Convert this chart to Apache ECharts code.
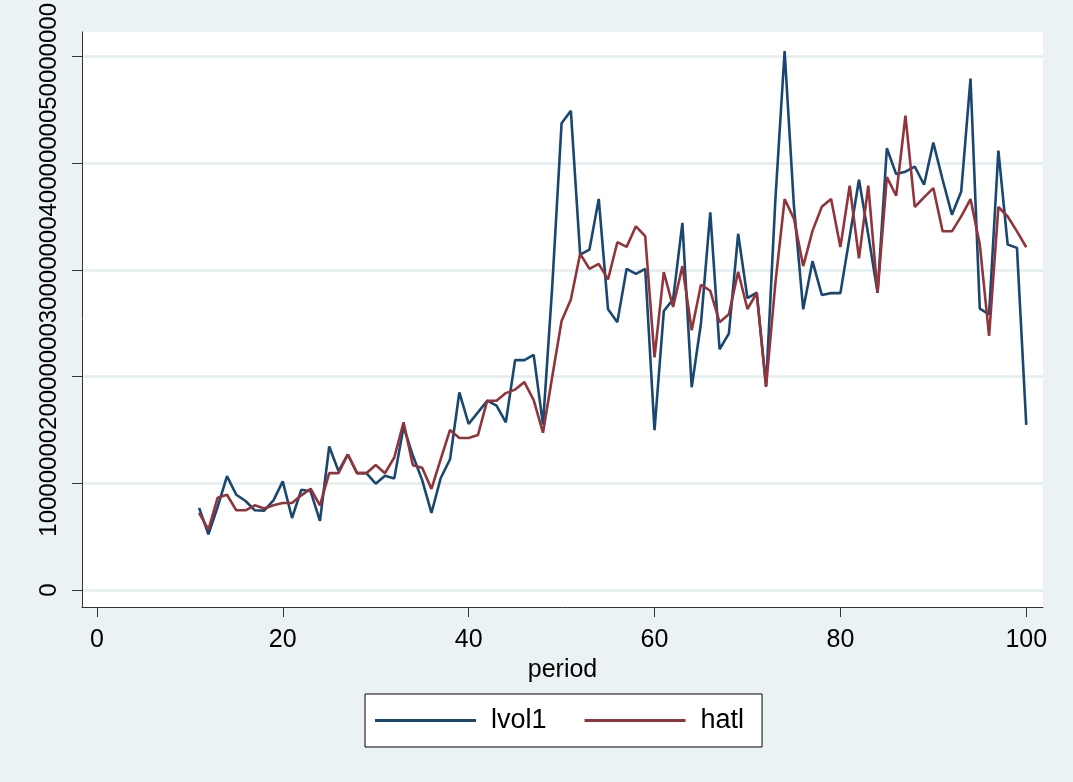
<!DOCTYPE html>
<html>
<head>
<meta charset="utf-8">
<script src="https://cdn.jsdelivr.net/npm/echarts@6/dist/echarts.min.js"></script>
<style>
html,body{margin:0;padding:0;background:#ffffff;}
#chart{width:1073px;height:782px;}
</style>
</head>
<body>
<div id="chart"></div>
<script>
var periods = [11,12,13,14,15,16,17,18,19,20,
  21,22,23,24,25,26,27,28,29,30,
  31,32,33,34,35,36,37,38,39,40,
  41,42,43,44,45,46,47,48,49,50,
  51,52,53,54,55,56,57,58,59,60,
  61,62,63,64,65,66,67,68,69,70,
  71,72,73,74,75,76,77,78,79,80,
  81,82,83,84,85,86,87,88,89,90,
  91,92,93,94,95,96,97,98,99,100];

var lvol1 = [7700000, 5230000, 7800000, 10670000, 8930000, 8340000, 7470000, 7440000, 8400000, 10180000,
  6750000, 9400000, 9250000, 6470000, 13450000, 11140000, 12700000, 10950000, 10950000, 9960000,
  10700000, 10460000, 15300000, 12600000, 10300000, 7220000, 10500000, 12250000, 18520000, 15560000,
  16650000, 17740000, 17270000, 15720000, 21540000, 21540000, 22040000, 15500000, 28500000, 43730000,
  44900000, 31430000, 31900000, 36650000, 26300000, 25100000, 30100000, 29630000, 30100000, 14970000,
  26140000, 27230000, 34400000, 19000000, 25000000, 35390000, 22560000, 24030000, 33380000, 27360000,
  27860000, 19120000, 36500000, 50500000, 36000000, 26300000, 30810000, 27650000, 27820000, 27820000,
  33100000, 38440000, 33300000, 27860000, 41390000, 38970000, 39200000, 39680000, 37970000, 41920000,
  38440000, 35170000, 37350000, 47930000, 26360000, 25830000, 41180000, 32370000, 32060000, 15470000];

var hatl = [7220000, 5660000, 8650000, 8930000, 7470000, 7470000, 7940000, 7630000, 7940000, 8150000,
  8150000, 8870000, 9490000, 7940000, 10950000, 10950000, 12700000, 10950000, 10950000, 11720000,
  10950000, 12420000, 15720000, 11700000, 11450000, 9480000, 12260000, 15000000, 14250000, 14250000,
  14520000, 17740000, 17740000, 18450000, 18780000, 19480000, 17800000, 14740000, 20000000, 25200000,
  27230000, 31500000, 30100000, 30560000, 29100000, 32590000, 32150000, 34080000, 33150000, 21790000,
  29790000, 26520000, 30350000, 24340000, 28600000, 28040000, 25100000, 25830000, 29820000, 26330000,
  27830000, 19030000, 28700000, 36630000, 34800000, 30350000, 33650000, 35920000, 36630000, 32130000,
  37880000, 31080000, 37890000, 27860000, 38680000, 36940000, 44440000, 35890000, 36790000, 37660000,
  33610000, 33610000, 35010000, 36630000, 32370000, 23810000, 35890000, 35000000, 33610000, 32120000];

var xTicks = [0, 20, 40, 60, 80, 100];
var yTicks = [0, 10000000, 20000000, 30000000, 40000000, 50000000];
var yLabelsEven = [0, 20000000, 40000000];
var yLabelsOdd = [10000000, 30000000, 50000000];

function pairs(xs, ys) {
  var out = [];
  for (var i = 0; i < xs.length; i++) out.push([xs[i], ys[i]]);
  return out;
}

var chart = echarts.init(document.getElementById('chart'), null, {renderer: 'canvas'});
var FONT = '"Liberation Sans", Arial, sans-serif';
var AXIS = '#333333';
var YMIN = -1590000, YMAX = 52290000;

function yLabelStyle(vals) {
  return {show: true, customValues: vals, rotate: 90, fontSize: 24, color: '#000', margin: 21, fontFamily: FONT,
    hideOverlap: false, formatter: function (v) { return String(Math.round(v)); }};
}

chart.setOption({
  backgroundColor: '#EAF2F3',
  animation: false,
  textStyle: {fontFamily: FONT},
  grid: {
    left: 82, right: 30, top: 30, bottom: 175,
    show: true, backgroundColor: '#ffffff', borderWidth: 0,
    containLabel: false
  },
  xAxis: {
    type: 'value',
    min: -1.6, max: 101.8,
    name: 'period',
    nameLocation: 'middle',
    nameGap: 43,
    nameTextStyle: {fontSize: 25, color: '#000', fontFamily: FONT},
    axisLine: {show: true, onZero: false, lineStyle: {color: AXIS, width: 1}},
    axisTick: {show: true, inside: false, length: 10, customValues: xTicks, lineStyle: {color: AXIS, width: 1}},
    axisLabel: {show: true, customValues: xTicks, fontSize: 25, color: '#000', margin: 21, fontFamily: FONT,
      formatter: function (v) { return String(v); }},
    splitLine: {show: false}
  },
  yAxis: [
    {
      type: 'value', position: 'left',
      min: YMIN, max: YMAX,
      axisLine: {show: true, onZero: false, lineStyle: {color: AXIS, width: 1}},
      axisTick: {show: true, inside: false, length: 10, customValues: yTicks, lineStyle: {color: AXIS, width: 1}},
      axisLabel: yLabelStyle(yLabelsEven),
      splitLine: {show: true, lineStyle: {color: '#E3ECEF', width: 2.5}}
    },
    {
      type: 'value', position: 'left', offset: 0,
      min: YMIN, max: YMAX,
      axisLine: {show: false, onZero: false},
      axisTick: {show: false},
      axisLabel: yLabelStyle(yLabelsOdd),
      splitLine: {show: false}
    }
  ],
  legend: {
    left: 365, top: 694,
    orient: 'horizontal',
    padding: [13, 18, 13, 10],
    itemWidth: 101, itemHeight: 3, itemGap: 38,
    icon: 'rect',
    borderColor: '#000', borderWidth: 1,
    backgroundColor: '#ffffff',
    textStyle: {fontSize: 27, color: '#000', fontFamily: FONT, padding: [0, 0, 0, 10]},
    data: ['lvol1', 'hatl']
  },
  series: [
    {
      name: 'lvol1', type: 'line', data: pairs(periods, lvol1),
      showSymbol: false, symbol: 'none',
      color: '#1A476F',
      lineStyle: {color: '#1A476F', width: 2.6},
      itemStyle: {color: '#1A476F'}
    },
    {
      name: 'hatl', type: 'line', data: pairs(periods, hatl),
      showSymbol: false, symbol: 'none',
      color: '#90353B',
      lineStyle: {color: '#90353B', width: 2.6},
      itemStyle: {color: '#90353B'}
    }
  ]
});
</script>
</body>
</html>
